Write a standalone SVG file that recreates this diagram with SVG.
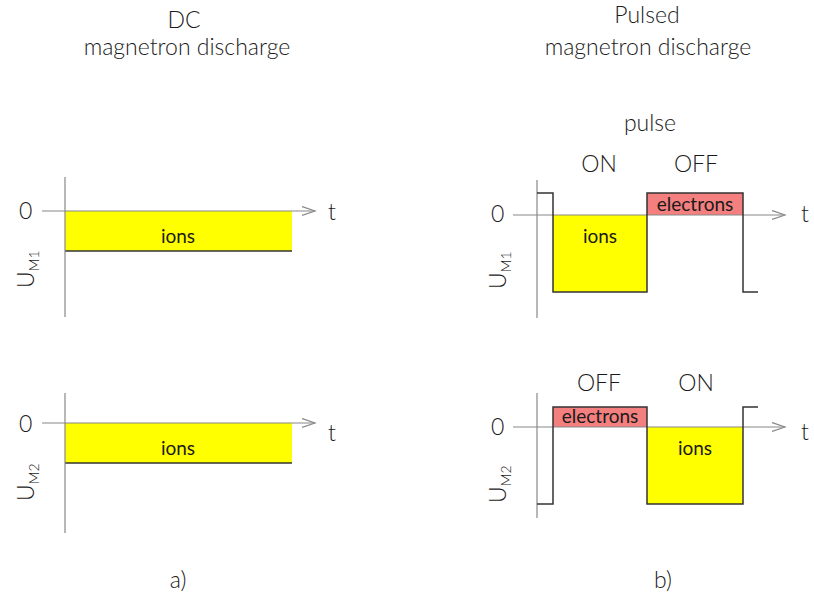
<svg xmlns="http://www.w3.org/2000/svg" width="814" height="599" viewBox="0 0 814 599">
<style>
text{font-family:Lato,"Open Sans","Liberation Sans",sans-serif;fill:#1a1a1a}
.title{font-size:23px;font-weight:300;text-anchor:middle}
.lab{font-size:23px;font-weight:300}
.ax{stroke:#888;stroke-width:1.2;fill:none}
.wave{stroke:#333;stroke-width:1.5;fill:none}
.ion{fill:#ffff00}
.el{fill:#f47f7f}
.in{font-size:19px;text-anchor:middle}
.sub{font-size:14px}
</style>
<defs>
<marker id="arr" markerUnits="userSpaceOnUse" markerWidth="16" markerHeight="12" refX="13" refY="5" orient="auto">
<path d="M0,0.5 L13,5 L0,9.5" fill="none" stroke="#888" stroke-width="1.2"/>
</marker>
</defs>
<g id="titles">
<text class="title" x="184" y="28">DC</text>
<text class="title" x="187" y="55">magnetron discharge</text>
<text class="title" x="647" y="23">Pulsed</text>
<text class="title" x="648" y="55">magnetron discharge</text>
<text class="title" x="650" y="131">pulse</text>
<text class="title" x="178" y="588">a)</text>
<text class="title" x="663" y="588">b)</text>
</g>
<g id="dc1">
<rect class="ion" x="65" y="211" width="227" height="40"/>
<line class="wave" x1="65" y1="251" x2="292" y2="251"/>
<line class="ax" x1="65" y1="177" x2="65" y2="317"/>
<line class="ax" x1="42" y1="211" x2="315" y2="211" marker-end="url(#arr)"/>
<text class="lab" x="19" y="219">0</text>
<text class="lab" x="328" y="220">t</text>
<text class="in" x="178" y="243">ions</text>
<text class="lab" transform="translate(34,288) rotate(-90)">U<tspan class="sub" dy="5">M1</tspan></text>
</g>
<g id="dc2">
<rect class="ion" x="65" y="423" width="227" height="40"/>
<line class="wave" x1="65" y1="463" x2="292" y2="463"/>
<line class="ax" x1="65" y1="393" x2="65" y2="533"/>
<line class="ax" x1="42" y1="423" x2="315" y2="423" marker-end="url(#arr)"/>
<text class="lab" x="19" y="432">0</text>
<text class="lab" x="328" y="441">t</text>
<text class="in" x="178" y="455">ions</text>
<text class="lab" transform="translate(34,501) rotate(-90)">U<tspan class="sub" dy="5">M2</tspan></text>
</g>
<g id="pulsed1">
<rect class="ion" x="553" y="215" width="94" height="77"/>
<rect class="el" x="647" y="193" width="96" height="22"/>
<line class="ax" x1="537" y1="180" x2="537" y2="318"/>
<line class="ax" x1="513" y1="215" x2="785" y2="215" marker-end="url(#arr)"/>
<path class="wave" d="M537,193 H553 V292 H647 V193 H743 V292 H758"/>
<text class="lab" x="491" y="222">0</text>
<text class="lab" x="801" y="222">t</text>
<text class="in" x="600" y="243">ions</text>
<text class="in" x="695" y="211">electrons</text>
<text class="title" x="599" y="172">ON</text>
<text class="title" x="696" y="172">OFF</text>
<text class="lab" transform="translate(506,289) rotate(-90)">U<tspan class="sub" dy="5">M1</tspan></text>
</g>
<g id="pulsed2">
<rect class="el" x="553" y="407" width="94" height="20"/>
<rect class="ion" x="647" y="427" width="96" height="77"/>
<line class="ax" x1="537" y1="393" x2="537" y2="518"/>
<line class="ax" x1="513" y1="427" x2="785" y2="427" marker-end="url(#arr)"/>
<path class="wave" d="M537,504 H553 V407 H647 V504 H743 V407 H758"/>
<text class="lab" x="491" y="435">0</text>
<text class="lab" x="801" y="440">t</text>
<text class="in" x="600" y="423">electrons</text>
<text class="in" x="695" y="455">ions</text>
<text class="title" x="599" y="391">OFF</text>
<text class="title" x="696" y="391">ON</text>
<text class="lab" transform="translate(506,503) rotate(-90)">U<tspan class="sub" dy="5">M2</tspan></text>
</g>
</svg>
